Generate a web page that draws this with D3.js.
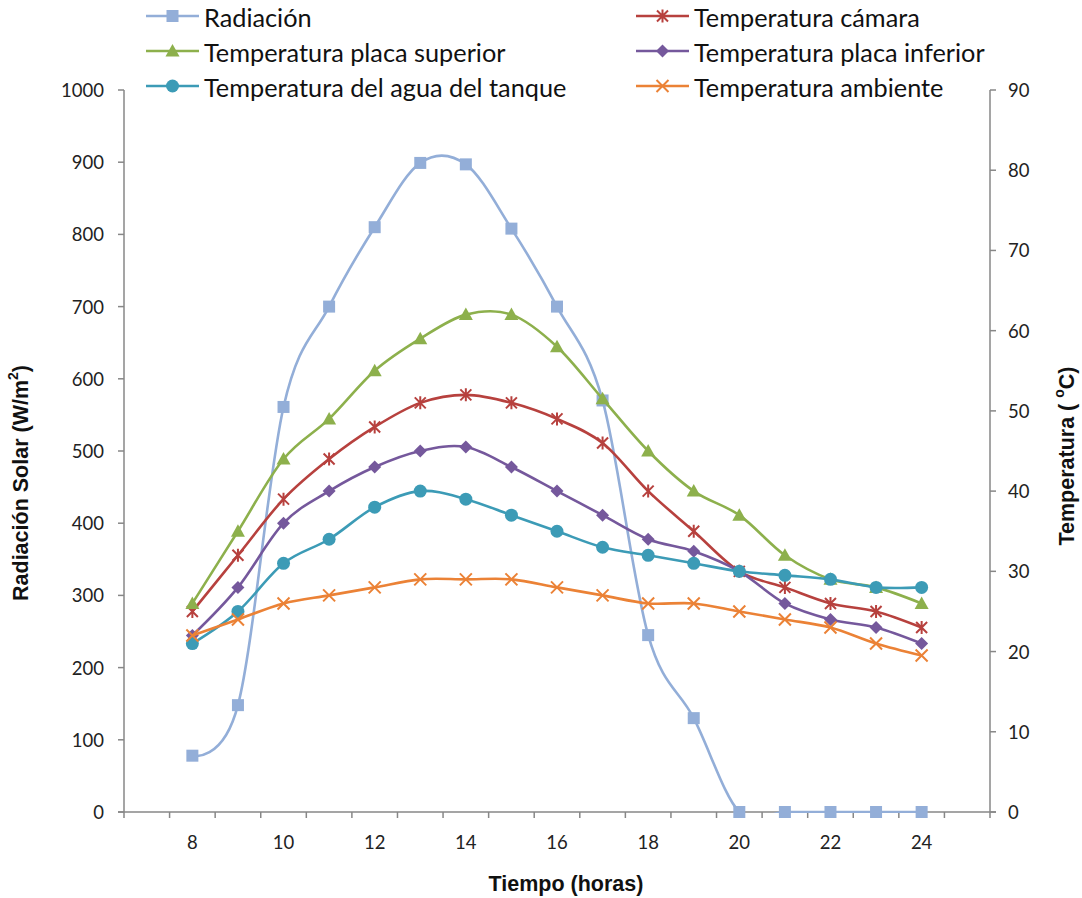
<!DOCTYPE html>
<html>
<head>
<meta charset="utf-8">
<script src="https://cdn.jsdelivr.net/npm/d3@7"></script>
<style>
  html, body { margin: 0; padding: 0; background: #fff; }
  svg { display: block; }
  .tick-label { font-family: Lato, "Open Sans", sans-serif; font-size: 18.5px; fill: #222; }
  .legend-label { font-family: Lato, "Open Sans", sans-serif; font-size: 25.3px; fill: #111; }
  .axis-title { font-family: "Liberation Sans", Arial, sans-serif; font-size: 21.5px; font-weight: bold; fill: #111; }
</style>
</head>
<body>
<svg id="chart" width="1082" height="898"></svg>
<script>
// Hours of the day (category axis)
const hours = [8, 9, 10, 11, 12, 13, 14, 15, 16, 17, 18, 19, 20, 21, 22, 23, 24];
const hourLabels = [8, 10, 12, 14, 16, 18, 20, 22, 24];

// Solar radiation, W/m² (left axis)
const radiacion = [78, 148, 561, 700, 810, 899, 897, 808, 700, 570, 245, 130, 0, 0, 0, 0, 0];

// Temperatures, ºC (right axis)
const tCamara   = [25, 32, 39, 44, 48, 51, 52, 51, 49, 46, 40, 35, 30, 28, 26, 25, 23];
const tSuperior = [26, 35, 44, 49, 55, 59, 62, 62, 58, 51.5, 45, 40, 37, 32, 29, 28, 26];
const tInferior = [22, 28, 36, 40, 43, 45, 45.5, 43, 40, 37, 34, 32.5, 30, 26, 24, 23, 21];
const tAgua     = [21, 25, 31, 34, 38, 40, 39, 37, 35, 33, 32, 31, 30, 29.5, 29, 28, 28];
const tAmbiente = [22, 24, 26, 27, 28, 29, 29, 29, 28, 27, 26, 26, 25, 24, 23, 21, 19.5];

// Axis tick values
const leftTicks = d3.range(0, 1001, 100);
const rightTicks = d3.range(0, 91, 10);

const svg = d3.select("#chart");
const plot = { left: 124, right: 990, top: 90, bottom: 812 };

const x = d3.scaleLinear().domain([6.5, 25.5]).range([plot.left, plot.right]);
const yL = d3.scaleLinear().domain([0, 1000]).range([plot.bottom, plot.top]);
const yR = d3.scaleLinear().domain([0, 90]).range([plot.bottom, plot.top]);

const axisColor = "#878787";

// Series definitions, in drawing order
const series = [
  { name: "Radiación", values: radiacion, y: yL, color: "#93AED8", marker: "square" },
  { name: "Temperatura cámara", values: tCamara, y: yR, color: "#B7413E", marker: "asterisk" },
  { name: "Temperatura placa superior", values: tSuperior, y: yR, color: "#8DB04C", marker: "triangle" },
  { name: "Temperatura placa inferior", values: tInferior, y: yR, color: "#75589C", marker: "diamond" },
  { name: "Temperatura del agua del tanque", values: tAgua, y: yR, color: "#3C9BB6", marker: "circle" },
  { name: "Temperatura ambiente", values: tAmbiente, y: yR, color: "#EB8236", marker: "x" }
];

function drawMarker(g, type, cx, cy, color) {
  if (type === "square") {
    g.append("rect").attr("x", cx - 6).attr("y", cy - 6).attr("width", 12).attr("height", 12)
      .attr("fill", color);
  } else if (type === "triangle") {
    g.append("path").attr("d", `M${cx},${cy - 7}L${cx + 7},${cy + 5.5}L${cx - 7},${cy + 5.5}Z`)
      .attr("fill", color);
  } else if (type === "diamond") {
    g.append("path").attr("d", `M${cx},${cy - 6.5}L${cx + 6.5},${cy}L${cx},${cy + 6.5}L${cx - 6.5},${cy}Z`)
      .attr("fill", color);
  } else if (type === "circle") {
    g.append("circle").attr("cx", cx).attr("cy", cy).attr("r", 6.5).attr("fill", color);
  } else if (type === "asterisk") {
    const r = 5.5;
    g.append("path")
      .attr("d", `M${cx - r},${cy - r}L${cx + r},${cy + r}M${cx - r},${cy + r}L${cx + r},${cy - r}M${cx},${cy - r - 1}L${cx},${cy + r + 1}`)
      .attr("stroke", color).attr("stroke-width", 2).attr("fill", "none");
  } else if (type === "x") {
    const r = 6;
    g.append("path")
      .attr("d", `M${cx - r},${cy - r}L${cx + r},${cy + r}M${cx - r},${cy + r}L${cx + r},${cy - r}`)
      .attr("stroke", color).attr("stroke-width", 2).attr("fill", "none");
  }
}

// Axes
const axes = svg.append("g");
// left axis
axes.append("line").attr("x1", plot.left).attr("x2", plot.left).attr("y1", plot.top).attr("y2", plot.bottom)
  .attr("stroke", axisColor).attr("stroke-width", 1.5);
leftTicks.forEach(t => {
  axes.append("line").attr("x1", plot.left - 6).attr("x2", plot.left).attr("y1", yL(t)).attr("y2", yL(t))
    .attr("stroke", axisColor).attr("stroke-width", 1.5);
  axes.append("text").attr("class", "tick-label").attr("x", 104).attr("y", yL(t))
    .attr("text-anchor", "end").attr("dominant-baseline", "central").text(t);
});
// right axis
axes.append("line").attr("x1", plot.right).attr("x2", plot.right).attr("y1", plot.top).attr("y2", plot.bottom)
  .attr("stroke", axisColor).attr("stroke-width", 1.5);
rightTicks.forEach(t => {
  axes.append("line").attr("x1", plot.right).attr("x2", plot.right + 6).attr("y1", yR(t)).attr("y2", yR(t))
    .attr("stroke", axisColor).attr("stroke-width", 1.5);
  axes.append("text").attr("class", "tick-label").attr("x", 1008).attr("y", yR(t))
    .attr("text-anchor", "start").attr("dominant-baseline", "central").text(t);
});
// bottom axis
axes.append("line").attr("x1", plot.left - 6).attr("x2", plot.right + 6).attr("y1", plot.bottom).attr("y2", plot.bottom)
  .attr("stroke", axisColor).attr("stroke-width", 1.5);
d3.range(6.5, 25.6, 1).forEach(t => {
  axes.append("line").attr("x1", x(t)).attr("x2", x(t)).attr("y1", plot.bottom).attr("y2", plot.bottom + 6)
    .attr("stroke", axisColor).attr("stroke-width", 1.5);
});
hourLabels.forEach(h => {
  axes.append("text").attr("class", "tick-label").attr("x", x(h)).attr("y", 842)
    .attr("text-anchor", "middle").attr("dominant-baseline", "central").text(h);
});

// Axis titles
svg.append("text").attr("class", "axis-title").attr("x", 566).attr("y", 884)
  .attr("text-anchor", "middle").attr("dominant-baseline", "central").text("Tiempo (horas)");

const lt = svg.append("text").attr("class", "axis-title")
  .attr("transform", "translate(21,483) rotate(-90)")
  .attr("text-anchor", "middle").attr("dominant-baseline", "central");
lt.append("tspan").text("Radiación Solar (W/m");
lt.append("tspan").attr("baseline-shift", "super").attr("font-size", "14px").text("2");
lt.append("tspan").text(")");

const rt = svg.append("text").attr("class", "axis-title")
  .attr("transform", "translate(1067,456) rotate(-90)")
  .attr("text-anchor", "middle").attr("dominant-baseline", "central");
rt.append("tspan").text("Temperatura ( ");
rt.append("tspan").attr("baseline-shift", "super").attr("font-size", "14px").text("o");
rt.append("tspan").text("C)");

// Plot clip
svg.append("defs").append("clipPath").attr("id", "plotClip")
  .append("rect").attr("x", plot.left).attr("y", plot.top)
  .attr("width", plot.right - plot.left).attr("height", plot.bottom - plot.top + 1);

// Series lines and markers
const marks = svg.append("g");
series.forEach(s => {
  const g = marks.append("g");
  const line = d3.line().x((d, i) => x(hours[i])).y(d => s.y(d)).curve(d3.curveCardinal.tension(0));
  g.append("path").datum(s.values).attr("d", line)
    .attr("fill", "none").attr("stroke", s.color).attr("stroke-width", 2.6)
    .attr("clip-path", "url(#plotClip)");
  s.values.forEach((v, i) => drawMarker(g, s.marker, x(hours[i]), s.y(v), s.color));
});

// Legend, two columns by three rows
const legendCols = [146, 636];
const legendRows = [16, 51, 86];
const legend = svg.append("g");
series.forEach((s, i) => {
  const lx = legendCols[i % 2];
  const ly = legendRows[Math.floor(i / 2)];
  legend.append("line").attr("x1", lx).attr("x2", lx + 53).attr("y1", ly).attr("y2", ly)
    .attr("stroke", s.color).attr("stroke-width", 2.6);
  drawMarker(legend, s.marker, lx + 26.5, ly, s.color);
  legend.append("text").attr("class", "legend-label").attr("x", lx + 58).attr("y", ly + 1)
    .attr("dominant-baseline", "central").text(s.name);
});
</script>
</body>
</html>
